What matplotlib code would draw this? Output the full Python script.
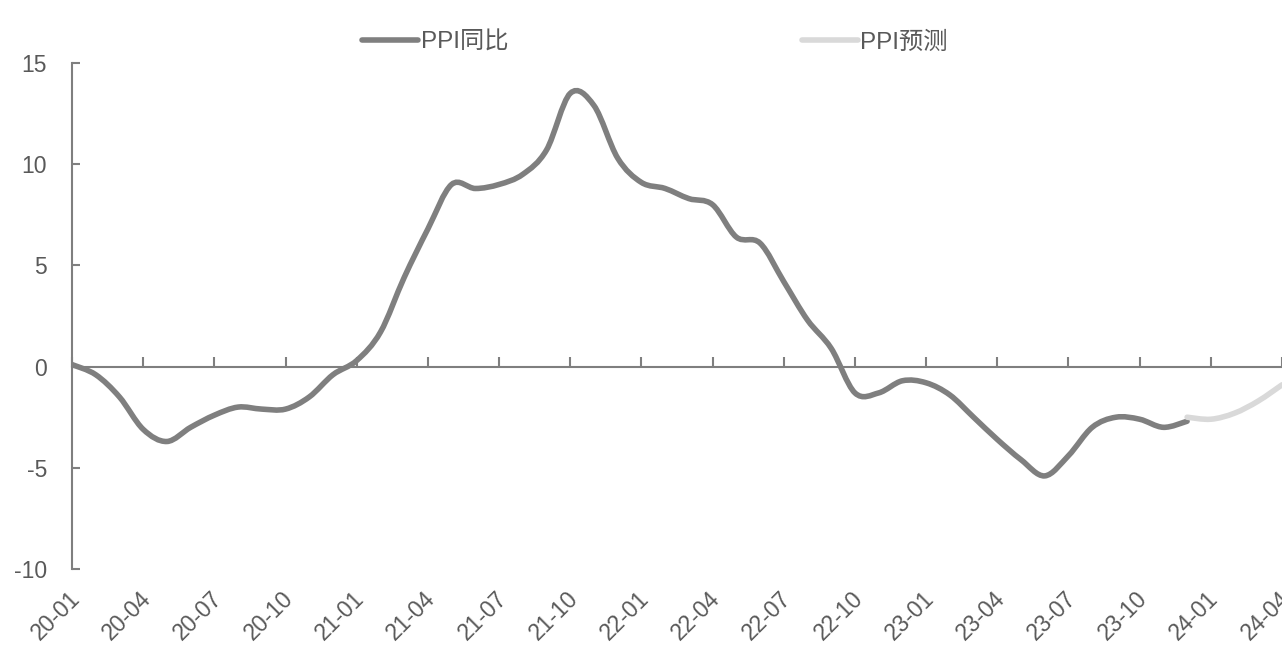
import matplotlib.pyplot as plt
from matplotlib.path import Path
from matplotlib.patches import PathPatch
from matplotlib.lines import Line2D

plt.rcParams['font.family'] = ['Liberation Sans', 'Noto Sans CJK SC', 'DejaVu Sans']

# monthly axis 20-01 .. 24-04
months = [f"{y:02d}-{m:02d}" for y in range(20, 25) for m in range(1, 13)][:52]

ppi_yoy = [0.1, -0.4, -1.5, -3.1, -3.7, -3.0, -2.4, -2.0, -2.1, -2.1, -1.5, -0.4,
           0.3, 1.7, 4.4, 6.8, 9.0, 8.8, 9.0, 9.5, 10.7, 13.5, 12.9, 10.3,
           9.1, 8.8, 8.3, 8.0, 6.4, 6.1, 4.2, 2.3, 0.9, -1.3, -1.3, -0.7,
           -0.8, -1.4, -2.5, -3.6, -4.6, -5.4, -4.4, -3.0, -2.5, -2.6, -3.0, -2.7]
# forecast 23-12 .. 24-04
ppi_fc_start = 47
ppi_fc = [-2.5, -2.6, -2.3, -1.7, -0.9]

tick_idx = list(range(0, 52, 3))


def smooth_path(xs, ys):
    # excel-style smoothed line (catmull-rom as cubic bezier)
    verts = [(xs[0], ys[0])]
    codes = [Path.MOVETO]
    n = len(xs)
    for i in range(n - 1):
        x0, y0 = (xs[i - 1], ys[i - 1]) if i > 0 else (xs[i], ys[i])
        x1, y1 = xs[i], ys[i]
        x2, y2 = xs[i + 1], ys[i + 1]
        x3, y3 = (xs[i + 2], ys[i + 2]) if i + 2 < n else (x2, y2)
        c1 = (x1 + (x2 - x0) / 6, y1 + (y2 - y0) / 6)
        c2 = (x2 - (x3 - x1) / 6, y2 - (y3 - y1) / 6)
        verts += [c1, c2, (x2, y2)]
        codes += [Path.CURVE4] * 3
    return Path(verts, codes)


fig = plt.figure(figsize=(12.82, 6.57), dpi=100)
ax = fig.add_axes([72 / 1282, 1 - 569 / 657, 1 - 72 / 1282, (569 - 63) / 657])

dark = '#7f7f7f'
light = '#d9d9d9'
txt = '#595959'

ax.add_patch(PathPatch(smooth_path(list(range(len(ppi_yoy))), ppi_yoy),
                       fill=False, edgecolor=dark, lw=4, capstyle='round', zorder=3))
fc_x = list(range(ppi_fc_start, ppi_fc_start + len(ppi_fc)))
ax.add_patch(PathPatch(smooth_path(fc_x, ppi_fc),
                       fill=False, edgecolor=light, lw=4, capstyle='round', zorder=3))

ax.set_xlim(0, 51)
ax.set_ylim(-10, 15)
ax.set_yticks([-10, -5, 0, 5, 10, 15])
ax.set_yticklabels(['-10', '-5', '0', '5', '10', '15'])

for s in ['top', 'right']:
    ax.spines[s].set_visible(False)
ax.spines['bottom'].set_position(('data', 0))
for s in ['left', 'bottom']:
    ax.spines[s].set_color(dark)
    ax.spines[s].set_linewidth(1.5)

ax.tick_params(axis='y', direction='in', length=6, width=1.5, color=dark,
               labelsize=16.5, labelcolor=txt, pad=18)
ax.set_xticks(tick_idx)
ax.tick_params(axis='x', direction='in', length=7, width=1.5, color=dark,
               labelbottom=False)

for i in tick_idx:
    ax.annotate(months[i], xy=(i, -10), xycoords='data', xytext=(3, -19),
                textcoords='offset points', rotation=45, ha='right', va='center',
                rotation_mode='anchor', fontsize=16.5, color=txt,
                annotation_clip=False)

handles = [Line2D([], [], color=dark, lw=4, solid_capstyle='round'),
           Line2D([], [], color=light, lw=4, solid_capstyle='round')]
fig.legend(handles, ['PPI同比', 'PPI预测'], loc='center', bbox_to_anchor=(0.511, 0.935),
           ncol=2, frameon=False, fontsize=17.5, handlelength=2.3, handletextpad=0.1,
           columnspacing=12.1, labelcolor=txt)

fig.savefig('out.png', dpi=100)
